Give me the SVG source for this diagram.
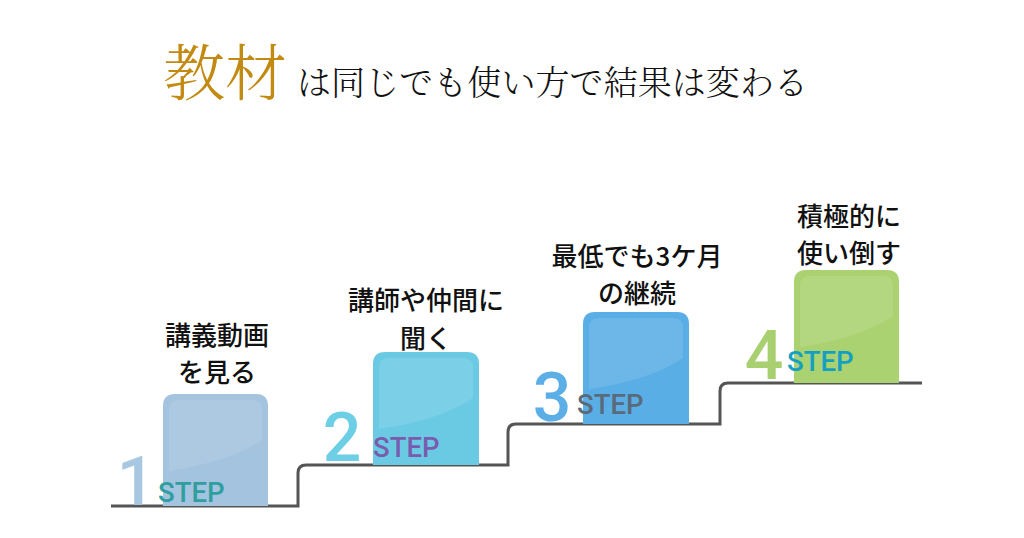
<svg xmlns="http://www.w3.org/2000/svg" width="1024" height="538" viewBox="0 0 1024 538">
<style>
.lbl{font-family:"Noto Sans CJK JP","Noto Sans",sans-serif;font-size:26px;font-weight:500;fill:#111;text-anchor:middle}
.num{font-family:Roboto,"Liberation Sans",sans-serif;font-size:68px;font-weight:500;text-anchor:middle}
.step{font-family:Roboto,"Liberation Sans",sans-serif;font-size:27.5px;font-weight:500}
.gloss{fill:#fff;fill-opacity:0.11}
.stair{fill:none;stroke:#555;stroke-width:3}
</style>
<rect width="1024" height="538" fill="#fff"/>
<g id="title">
<text x="163" y="96" font-family="'Noto Serif CJK JP','Noto Sans CJK JP',serif" font-size="62" font-weight="300" fill="#c38a12">教材</text>
<text x="297" y="95" font-family="'Noto Serif CJK JP','Noto Sans CJK JP',serif" font-size="34" font-weight="300" fill="#111" textLength="511" lengthAdjust="spacing">は同じでも使い方で結果は変わる</text>
</g>
<g id="connectors">
<path class="stair" d="M111,506 H298 V473 Q298,465 306,465 H508 V432 Q508,424 516,424 H720 V391 Q720,383 728,383 H922"/>
</g>
<g id="step1">
<text class="num" x="136" y="505" fill="#a8c8e2">1</text>
<path d="M163,506 V406 Q163,394 175,394 H256 Q268,394 268,406 V506 Z" fill="#a3c3df"/>
<path class="gloss" d="M169,471 V410 Q169,400 179,400 H252 Q262,400 262,410 V440 Q230,462 169,471 Z"/>
<text class="step" x="158" y="502" fill="#2e9e9e">STEP</text>
<text class="lbl" x="217" y="345">講義動画</text>
<text class="lbl" x="217" y="382">を見る</text>
</g>
<g id="step2">
<text class="num" x="342" y="461" fill="#6ccfe6">2</text>
<path d="M373,465 V364 Q373,352 385,352 H467 Q479,352 479,364 V465 Z" fill="#6bcae3"/>
<path class="gloss" d="M379,429 V368 Q379,358 389,358 H463 Q473,358 473,368 V398 Q441,420 379,429 Z"/>
<text class="step" x="373" y="457" fill="#7a5cae">STEP</text>
<text class="lbl" x="426" y="310">講師や仲間に</text>
<text class="lbl" x="426" y="348">聞く</text>
</g>
<g id="step3">
<text class="num" x="552" y="421" fill="#5caee6">3</text>
<path d="M583,424 V324 Q583,312 595,312 H677 Q689,312 689,324 V424 Z" fill="#5aaee6"/>
<path class="gloss" d="M589,389 V328 Q589,318 599,318 H673 Q683,318 683,328 V358 Q651,380 589,389 Z"/>
<text class="step" x="577" y="414" fill="#5a6a7a">STEP</text>
<text class="lbl" x="637" y="266">最低でも3ケ月</text>
<text class="lbl" x="637" y="303">の継続</text>
</g>
<g id="step4">
<text class="num" x="764" y="379" fill="#a8d070">4</text>
<path d="M794,383 V282 Q794,270 806,270 H887 Q899,270 899,282 V383 Z" fill="#aad271"/>
<path class="gloss" d="M800,347 V286 Q800,276 810,276 H883 Q893,276 893,286 V316 Q861,338 800,347 Z"/>
<text class="step" x="787" y="371" fill="#14a0c2">STEP</text>
<text class="lbl" x="849" y="226">積極的に</text>
<text class="lbl" x="849" y="263">使い倒す</text>
</g>
</svg>
